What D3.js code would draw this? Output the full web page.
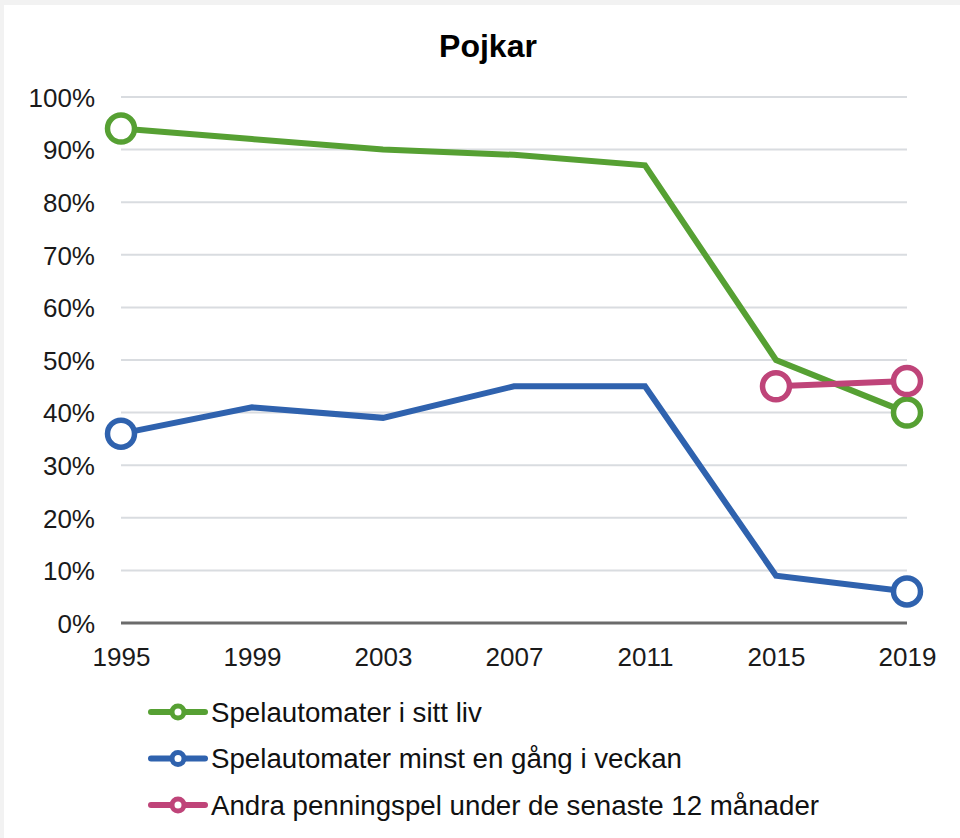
<!DOCTYPE html>
<html><head><meta charset="utf-8">
<script src="https://cdn.jsdelivr.net/npm/d3@7"></script>
<style>html,body{margin:0;padding:0;background:#f2f2f2;}svg{display:block;}</style>
</head><body>
<script>
const years = ["1995","1999","2003","2007","2011","2015","2019"];
const spelautomaterLiv = [94, 92, 90, 89, 87, 50, 40];
const spelautomaterVecka = [36, 41, 39, 45, 45, 9, 6];
const andraPenningspel = [null, null, null, null, null, 45, 46];
const seriesNames = ["Spelautomater i sitt liv", "Spelautomater minst en gång i veckan", "Andra penningspel under de senaste 12 månader"];
const seriesColors = ["#56A033", "#2F62AE", "#BF4479"];
const yTicks = [0,10,20,30,40,50,60,70,80,90,100];

const W = 960, H = 838;
const svg = d3.select("body").append("svg").attr("width", W).attr("height", H);
svg.append("rect").attr("x",0).attr("y",0).attr("width",W).attr("height",H).attr("fill","#f2f2f2");
svg.append("rect").attr("x",4).attr("y",5).attr("width",W-4).attr("height",H-5).attr("fill","#ffffff");

const x = d3.scalePoint().domain(years).range([121, 907]);
const y = d3.scaleLinear().domain([0, 100]).range([623, 97]);
const font = "Liberation Sans, Arial, sans-serif";

svg.append("text").attr("x", 488).attr("y", 57).attr("text-anchor","middle")
  .attr("font-family", font).attr("font-size", 32).attr("font-weight","bold").attr("fill","#000").text("Pojkar");

// grid
svg.append("g").selectAll("line").data(yTicks.filter(d=>d>0)).join("line")
  .attr("x1", 121).attr("x2", 907).attr("y1", d=>y(d)).attr("y2", d=>y(d))
  .attr("stroke","#d9dce0").attr("stroke-width",2);
svg.append("line").attr("x1",121).attr("x2",907).attr("y1",y(0)).attr("y2",y(0))
  .attr("stroke","#6b6b6b").attr("stroke-width",3);

// y labels
const yAxis = d3.axisLeft(y).tickValues(yTicks).tickFormat(d=>d+"%").tickSize(0).tickPadding(0);
const ga = svg.append("g").attr("transform","translate(95,0)").call(yAxis);
ga.select(".domain").remove();
ga.selectAll("text").attr("font-family",font).attr("font-size",26).attr("fill","#1a1a1a").attr("dy","0.36em");

const xAxis = d3.axisBottom(x).tickSize(0).tickPadding(0);
const gx = svg.append("g").attr("transform","translate(0,666)").call(xAxis);
gx.select(".domain").remove();
gx.selectAll("text").attr("font-family",font).attr("font-size",26).attr("fill","#1a1a1a").attr("y",0).attr("dy","0");

const allSeries = [spelautomaterLiv, spelautomaterVecka, andraPenningspel];
const line = d3.line().defined(d=>d.v!=null).x(d=>x(d.year)).y(d=>y(d.v));
allSeries.forEach((vals, i) => {
  const pts = vals.map((v,j)=>({year: years[j], v}));
  svg.append("path").datum(pts).attr("d", line).attr("fill","none")
    .attr("stroke", seriesColors[i]).attr("stroke-width",6).attr("stroke-linejoin","miter");
  const def = pts.filter(d=>d.v!=null);
  const ends = [def[0], def[def.length-1]];
  svg.append("g").selectAll("circle").data(ends).join("circle")
    .attr("cx", d=>x(d.year)).attr("cy", d=>y(d.v)).attr("r", 13.5)
    .attr("fill","#fff").attr("stroke", seriesColors[i]).attr("stroke-width",5.5);
});

// legend
const leg = svg.append("g");
seriesNames.forEach((name, i) => {
  const ly = 712 + i*46.5;
  leg.append("line").attr("x1",151).attr("x2",205).attr("y1",ly).attr("y2",ly)
    .attr("stroke",seriesColors[i]).attr("stroke-width",6).attr("stroke-linecap","round");
  leg.append("circle").attr("cx",178).attr("cy",ly).attr("r",6)
    .attr("fill","#fff").attr("stroke",seriesColors[i]).attr("stroke-width",5);
  leg.append("text").attr("x",211).attr("y",ly).attr("dy","0.36em")
    .attr("font-family",font).attr("font-size",27.7).attr("fill","#111").text(name);
});
</script>
</body></html>
